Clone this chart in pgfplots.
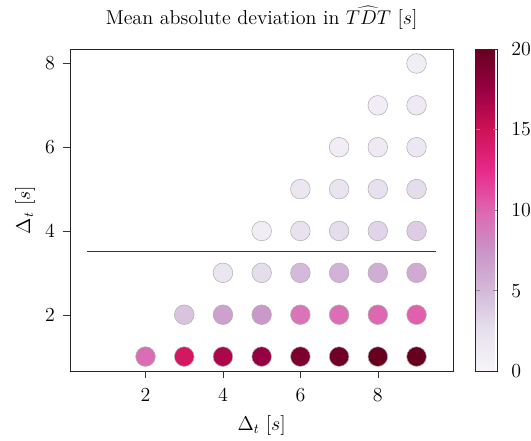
\documentclass[border={11pt 3pt 0pt 4.6pt},12pt]{standalone}
\usepackage{pgfplots}
\pgfplotsset{compat=1.18}
\usepackage{pgfplotstable}

% mean absolute deviation per (x, y) pair
\pgfplotstableread{
x y c
2 1 9.6
3 1 14.5
4 1 16.6
5 1 17.6
6 1 19.0
7 1 19.5
8 1 20.0
9 1 20.0
3 2 4.4
4 2 6.7
5 2 7.2
6 2 9.2
7 2 9.5
8 2 9.9
9 2 10.2
4 3 2.0
5 3 2.8
6 3 5.0
7 3 5.5
8 3 5.8
9 3 6.0
5 4 0.9
6 4 2.4
7 4 2.8
8 4 3.3
9 4 3.8
6 5 1.8
7 5 2.1
8 5 2.5
9 5 2.8
7 6 1.0
8 6 1.4
9 6 1.7
8 7 1.0
9 7 1.4
9 8 0.8
}\maddata

\begin{document}
\begin{tikzpicture}
\begin{axis}[
    scale only axis,
    width=277pt, height=233pt,
    xmin=0.05, xmax=9.95,
    ymin=0.65, ymax=8.35,
    xtick={2,4,6,8}, ytick={2,4,6,8},
    tick align=outside,
    xtick pos=bottom, ytick pos=left,
    major tick length=5pt,
    tick style={black!80},
    axis line style={black!85},
    tick label style={font=\fontsize{14}{17}\selectfont},
    label style={font=\fontsize{14}{17}\selectfont},
    xticklabel style={yshift=-3.5pt},
    yticklabel style={xshift=-1.8pt},
    xlabel={$\Delta_t\ [s]$},
    ylabel={$\Delta_t\ [s]$},
    xlabel style={at={(axis description cs:0.5,-0.185)}, anchor=base, inner sep=0pt},
    ylabel style={at={(axis description cs:-0.104,0.5)}, anchor=base, inner sep=0pt},
    title={Mean absolute deviation in $\widehat{TDT}$ $[s]$},
    title style={at={(axis description cs:0.5,1.05)}, anchor=base, inner sep=0pt,
        font=\fontsize{14.5}{17}\selectfont},
    colormap={purd}{rgb255=(247,244,249) rgb255=(231,225,239) rgb255=(212,185,218) rgb255=(201,148,199) rgb255=(223,101,176) rgb255=(231,41,138) rgb255=(206,18,86) rgb255=(152,0,67) rgb255=(103,0,31)},
    point meta min=0, point meta max=20,
    colorbar,
    colorbar style={
        at={(parent axis.north east)}, anchor=north west,
        xshift=7.5pt,
        width=15.8pt,
        ytick={0,5,10,15,20},
        yticklabel pos=right,
        ytick pos=both,
        tick align=inside,
        major tick length=5pt,
        ytick style={black!45, dashed},
        axis line style={black!85},
        yticklabel style={inner xsep=0pt, xshift=10pt, font=\fontsize{14}{17}\selectfont},
    },
]
\addplot[black!80, line width=0.8pt] coordinates {(0.5,3.5) (9.5,3.5)};
\addplot[scatter, only marks, mark=*, mark size=7.1pt,
    scatter src=explicit,
    scatter/use mapped color={draw=black!30, fill=mapped color}]
    table[x=x, y=y, meta=c] {\maddata};
\end{axis}
\end{tikzpicture}
\end{document}
